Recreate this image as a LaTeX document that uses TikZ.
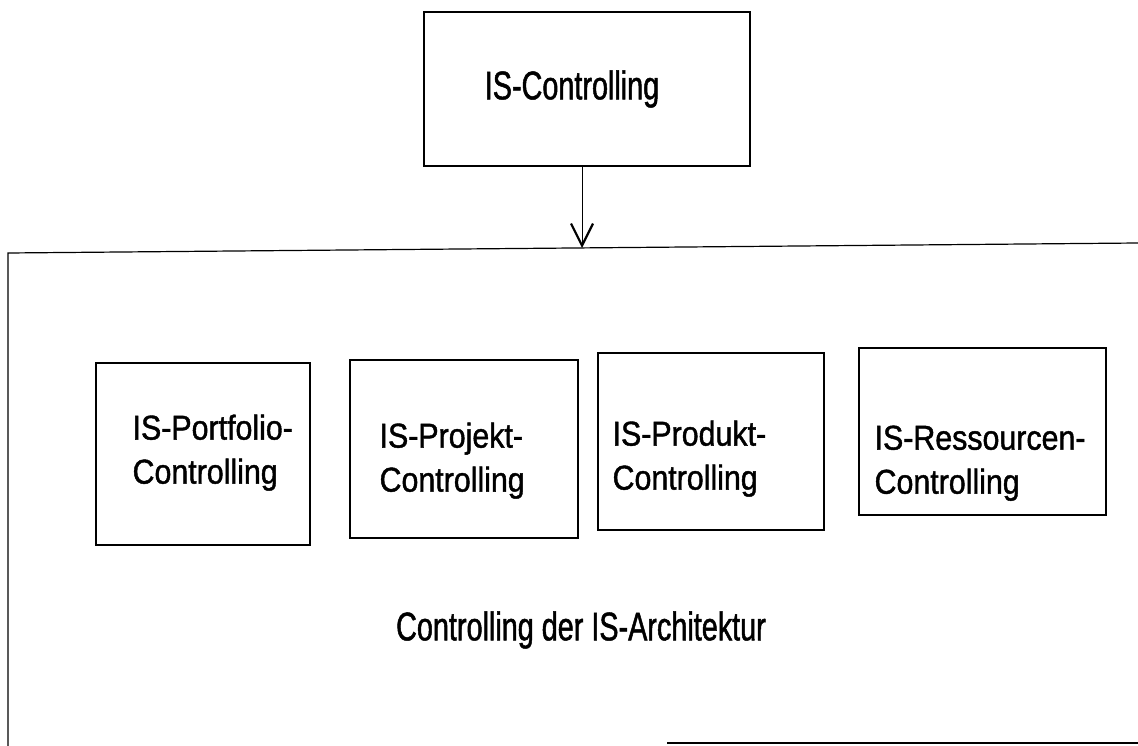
\documentclass[tikz,border=0pt]{standalone}
\usepackage{fontspec}
\setmainfont{Liberation Sans}
\newfontfamily\narrowfont{Liberation Sans}[FakeStretch=0.72, FakeBold=1.2]
\newfontfamily\boxfont{Liberation Sans}[FakeStretch=0.88, FakeBold=1.2]
\usetikzlibrary{arrows.meta, positioning}

\tikzset{
  ctrlbox/.style={draw, line width=1.2pt, inner sep=0pt},
  ctrltext/.style={inner sep=0pt, align=left, anchor=north west,
    font=\boxfont\fontsize{34.5}{44}\selectfont},
  topbox/.style={draw, line width=1.1pt, inner sep=0pt,
    font=\narrowfont\fontsize{40}{48}\selectfont},
  archlabel/.style={font=\narrowfont\fontsize{40}{48}\selectfont}
}

\begin{document}
\begin{tikzpicture}[x=1pt, y=-1pt]
  \useasboundingbox (0,0) rectangle (1138,746);

  % oberste Ebene
  \node[topbox, minimum width=326pt, minimum height=154pt] (isctrl) at (587,89) {IS-Controlling\hspace*{30pt}};

  % Rahmen Controlling der IS-Architektur
  \draw[line width=1.2pt] (1138,243) -- (8,253) -- (8,746);
  \draw[line width=1.2pt] (667,743) -- (1138,743);
  \coordinate (archtop) at (582,248);
  \draw[line width=1pt, -{Straight Barb[length=22pt, width=22pt, line width=2.2pt]}] ([xshift=-5pt]isctrl.south) -- (archtop);

  % Teilbereiche
  \node[ctrlbox, minimum width=214pt, minimum height=182pt] (portfolio) at (203,454) {};
  \node[ctrlbox, minimum width=228pt, minimum height=178pt] (projekt) at (464,449) {};
  \node[ctrlbox, minimum width=226pt, minimum height=177pt] (produkt) at (711,441.5) {};
  \node[ctrlbox, minimum width=247pt, minimum height=167pt] (ressourcen) at (982.5,431.5) {};

  \node[ctrltext] (portfolio-text) at ([xshift=37pt, yshift=-52pt]portfolio.north west) {IS-Portfolio-\\Controlling};
  \node[ctrltext] (projekt-text) at ([xshift=30pt, yshift=-63pt]projekt.north west) {IS-Projekt-\\Controlling};
  \node[ctrltext] (produkt-text) at ([xshift=15pt, yshift=-68pt]produkt.north west) {IS-Produkt-\\Controlling};
  \node[ctrltext] (ressourcen-text) at ([xshift=16pt, yshift=-78pt]ressourcen.north west) {IS-Ressourcen-\\Controlling};

  \node[archlabel] (archname) at (581,630) {Controlling der IS-Architektur};
\end{tikzpicture}
\end{document}
